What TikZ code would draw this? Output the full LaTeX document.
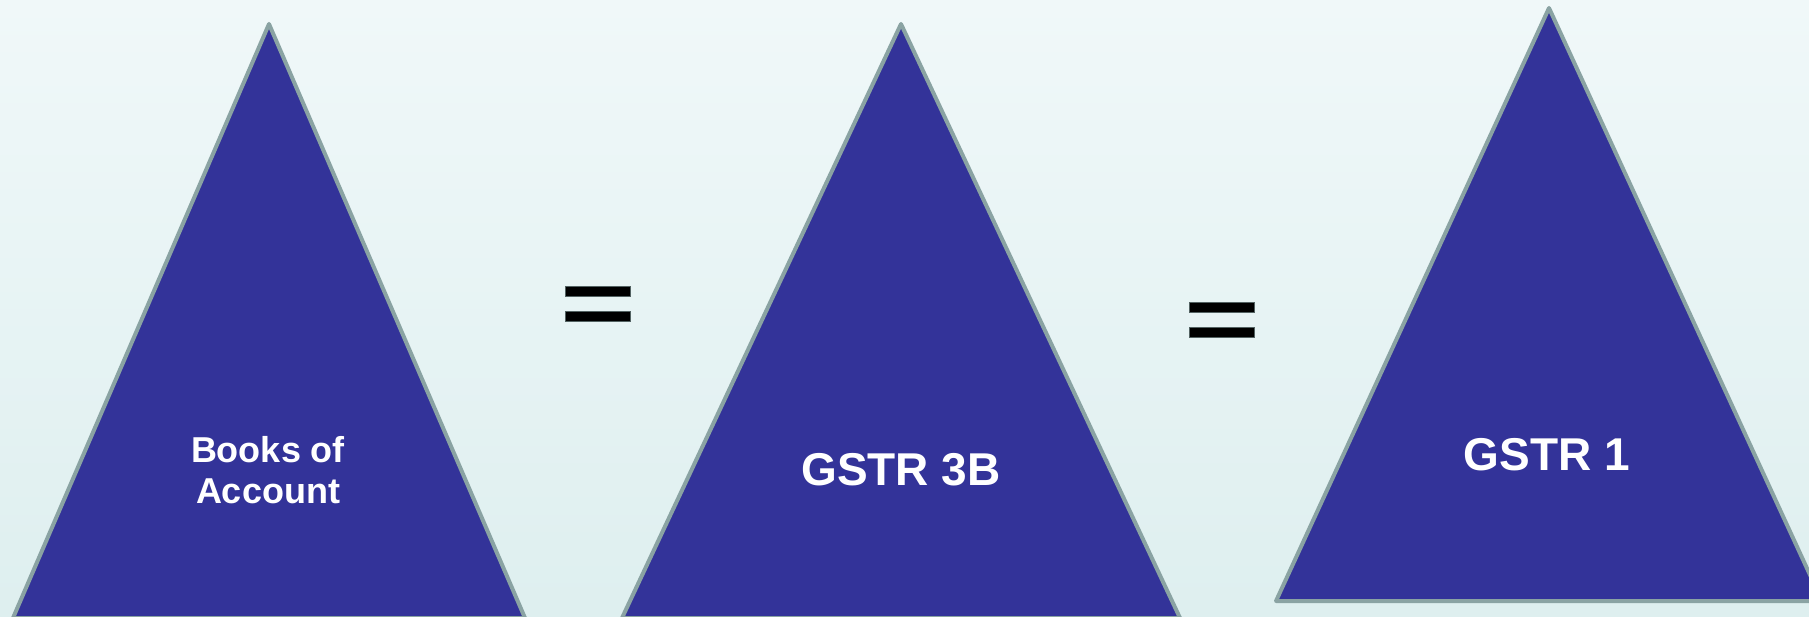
\documentclass[tikz,border=0pt]{standalone}
\usepackage{fontspec}
\setmainfont{Liberation Sans}
\definecolor{bgtop}{RGB}{240,248,249}
\definecolor{bgbottom}{RGB}{222,239,239}
\definecolor{pyrfill}{RGB}{51,51,153}
\definecolor{pyredge}{RGB}{138,163,163}
\tikzset{
  pyramid/.style={fill=pyrfill, draw=pyredge, line width=4pt, line join=round},
  eqbar/.style={fill=black, draw=pyredge!60!black, line width=0.6pt},
  label/.style={text=white, font=\bfseries, align=center, inner sep=0pt},
  smalltext/.style={label, font=\bfseries\fontsize{36}{41.5}\selectfont},
  bigtext/.style={label, font=\bfseries\fontsize{46}{52}\selectfont}
}
\begin{document}
\begin{tikzpicture}[x=1pt,y=-1pt]
  \useasboundingbox (0,0) rectangle (1809,617);
  \shade[top color=bgtop, bottom color=bgbottom] (0,0) rectangle (1809,617);

  % three pyramids
  \draw[pyramid] (269,24) -- (13,618) -- (525,618) -- cycle;
  \draw[pyramid] (901,24) -- (622,618) -- (1180,618) -- cycle;
  \draw[pyramid] (1549,8) -- (1276,601) -- (1822,601) -- cycle;

  % labels
  \node[smalltext] (books) at (268,470) {Books of\\Account};
  \node[bigtext] (gstr3b) at (901,470) {GSTR 3B};
  \node[bigtext] (gstr1) at (1547,455) {GSTR 1};

  % equals signs between the pyramids
  \draw[eqbar] (565,286) rectangle (630,296);
  \draw[eqbar] (565,311) rectangle (630,321);
  \draw[eqbar] (1189,302) rectangle (1254,312);
  \draw[eqbar] (1189,327) rectangle (1254,337);
\end{tikzpicture}
\end{document}
